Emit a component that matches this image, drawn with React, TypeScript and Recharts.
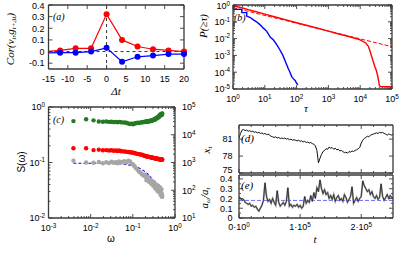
import React from 'react';
import { LineChart, Line, XAxis, YAxis, ReferenceLine } from 'recharts';

const W = 400;
const H = 280;
const FRAME = '#3a3a3a';
const SANS = '"Liberation Sans", Arial, sans-serif';
const SERIF = '"Liberation Serif", "DejaVu Serif", serif';

// (a) cross-correlation vs lag
const aLag = [-16, -12, -8, -4, 0, 4, 8, 12, 16, 20];
const aRed = [0.0, 0.01, 0.028, 0.028, 0.32, 0.1, 0.043, 0.02, 0.01, 0.0];
const aBlue = [-0.012, -0.01, -0.01, 0.0, 0.032, -0.088, -0.045, -0.035, -0.022, -0.022];
const aXTicks = [-15, -10, -5, 0, 5, 10, 15, 20];
const aYTicks = [-0.1, 0, 0.1, 0.2, 0.3, 0.4];

// (b) survival functions
const bBlueT = [1, 1.9, 1.9, 2.7, 2.7, 3.5, 4.4, 5.5, 7, 9, 11.5, 15, 18.5, 24, 30, 37, 44, 50, 55, 62, 70, 80, 90, 100, 110];
const bBlueP = [0.55, 0.55, 0.35, 0.35, 0.22, 0.18, 0.13, 0.1, 0.068, 0.042, 0.027, 0.012, 0.0085, 0.0042, 0.0021, 0.001, 4.5e-4, 2.5e-4, 1.6e-4, 1e-4, 5.5e-5, 4e-5, 3.2e-5, 2.2e-5, 1.8e-5];
const bRedT = [1, 2, 3, 5, 10, 20, 50, 100, 200, 500, 1000, 2000, 5000, 10000, 15000, 18000, 20000, 23000, 26000, 29000, 32000, 35000, 38000, 40000, 43000, 100000];
const bRedP = [0.9, 0.66, 0.53, 0.41, 0.285, 0.2, 0.125, 0.088, 0.062, 0.04, 0.028, 0.0195, 0.0125, 0.0085, 0.0055, 0.0035, 0.002, 8.3e-4, 4e-4, 2.1e-4, 1.3e-4, 6.8e-5, 3e-5, 1.7e-5, 1.4e-5, 1.35e-5];
const bFitT = [1, 100000];
const bFitP = [0.7, 0.0033];
const bXTicks = [1, 10, 100, 1000, 10000, 100000];
const bYTicks = [1e-5, 1e-4, 1e-3, 1e-2, 1e-1, 1];

// (c) spectra
const cOmega = [0.0039, 0.0078, 0.0117, 0.0156, 0.0195, 0.0234, 0.0273, 0.0313, 0.0352, 0.0391, 0.043, 0.0469, 0.0508, 0.0547, 0.0625, 0.0703, 0.0781, 0.0859, 0.0938, 0.1016, 0.1094, 0.1172, 0.1289, 0.1406, 0.1523, 0.1641, 0.1758, 0.1875, 0.2031, 0.2188, 0.2344, 0.25, 0.2656, 0.2813, 0.2969, 0.3125, 0.332, 0.3516, 0.3711, 0.3906, 0.4102, 0.4297, 0.4492, 0.4688, 0.4844, 0.5];
const cGray = [0.108, 0.1, 0.099, 0.102, 0.097, 0.101, 0.098, 0.103, 0.099, 0.101, 0.097, 0.104, 0.1, 0.102, 0.106, 0.1, 0.108, 0.104, 0.095, 0.092, 0.086, 0.08, 0.074, 0.068, 0.066, 0.061, 0.06, 0.057, 0.055, 0.051, 0.05, 0.048, 0.045, 0.044, 0.042, 0.04, 0.039, 0.036, 0.037, 0.033, 0.035, 0.03, 0.032, 0.027, 0.028, 0.025];
const cRed = [3250, 3250, 2800, 2900, 2750, 2800, 2700, 2750, 2650, 2700, 2600, 2700, 2600, 2550, 2500, 2450, 2400, 2350, 2300, 2250, 2200, 2100, 2050, 2000, 1950, 1900, 1850, 1750, 1700, 1650, 1600, 1580, 1550, 1500, 1480, 1450, 1420, 1400, 1380, 1350, 1330, 1300, 1320, 1280, 1300, 1270];
const cGreen = [31000, 36000, 33000, 30000, 29500, 30000, 29000, 29500, 28500, 29000, 28000, 29000, 28500, 28000, 27500, 27000, 25500, 24500, 25000, 24000, 25500, 26000, 27000, 26500, 28000, 27500, 29000, 28500, 30000, 29500, 30000, 30500, 31000, 32000, 33000, 34000, 35000, 37000, 39000, 41000, 43000, 46000, 50000, 54000, 51000, 57000];
// extra high-frequency points (between the ones above)
const cOmegaB = [0.1953, 0.2109, 0.2266, 0.2422, 0.2578, 0.2734, 0.2891, 0.3047, 0.3203, 0.3398, 0.3594, 0.3789, 0.3984, 0.418, 0.4375, 0.457, 0.4766, 0.4922];
const cGrayB = [0.06, 0.048, 0.055, 0.045, 0.05, 0.041, 0.046, 0.038, 0.044, 0.034, 0.04, 0.031, 0.038, 0.029, 0.036, 0.026, 0.033, 0.024];
const cRedB = [1720, 1680, 1620, 1600, 1560, 1530, 1490, 1470, 1440, 1410, 1390, 1370, 1340, 1310, 1310, 1290, 1300, 1260];
const cGreenB = [29000, 30000, 30500, 31500, 32000, 32500, 33500, 34500, 36000, 38000, 40000, 42000, 44000, 48000, 52000, 55000, 53000, 58000];
const cFitW = [0.0039, 0.0078, 0.0156, 0.0313, 0.0469, 0.0625, 0.0781, 0.0938, 0.1172, 0.1406, 0.1641, 0.1875, 0.2188, 0.25, 0.2813, 0.3125, 0.3516, 0.3906, 0.4297, 0.4688, 0.5];
const cFitS = [0.097, 0.097, 0.097, 0.096, 0.0947, 0.093, 0.0908, 0.0884, 0.0842, 0.0795, 0.0747, 0.0698, 0.0633, 0.0573, 0.0516, 0.0465, 0.0409, 0.036, 0.0318, 0.0282, 0.0257];
const cXTicks = [0.001, 0.01, 0.1, 1];
const cYTicks = [0.01, 0.1, 1];
const cRTicks = [10, 100, 1000, 10000, 100000];

// (d), (e) time series
const dTime = [0, 2500, 5000, 7500, 10000, 12500, 15000, 17500, 20000, 22500, 25000, 27500, 30000, 32500, 35000, 37500, 40000, 42500, 45000, 47500, 50000, 52500, 55000, 57500, 60000, 62500, 65000, 67500, 70000, 72500, 75000, 77500, 80000, 82500, 85000, 87500, 90000, 92500, 95000, 97500, 100000, 102500, 105000, 107500, 110000, 112500, 115000, 117500, 120000, 122500, 125000, 127500, 130000, 132500, 135000, 137500, 140000, 142500, 145000, 147500, 150000, 152500, 155000, 157500, 160000, 162500, 165000, 167500, 170000, 172500, 175000, 177500, 180000, 182500, 185000, 187500, 190000, 192500, 195000, 197500, 200000, 202500, 205000, 207500, 210000, 212500, 215000, 217500, 220000, 222500, 225000, 227500, 230000, 232500, 235000, 237500, 240000, 242500, 245000, 247500, 250000, 252500];
const dX = [81.2, 82.0, 82.6, 82.7, 82.5, 82.6, 82.4, 82.5, 82.3, 82.4, 82.2, 82.3, 82.1, 82.2, 82.0, 82.1, 81.9, 82.0, 81.8, 81.9, 81.7, 81.5, 81.4, 81.3, 81.4, 81.2, 81.3, 81.1, 81.2, 81.1, 81.2, 81.0, 81.1, 80.9, 81.0, 80.8, 80.9, 80.8, 80.7, 80.8, 80.6, 80.7, 80.5, 80.6, 80.4, 80.5, 80.3, 80.4, 80.2, 80.1, 79.8, 79.0, 76.8, 77.6, 78.3, 78.8, 79.0, 79.3, 79.2, 79.6, 79.4, 79.5, 79.2, 79.4, 79.1, 79.2, 78.9, 79.0, 78.8, 78.6, 78.7, 78.5, 78.8, 78.7, 78.9, 78.8, 79.0, 79.1, 79.3, 79.5, 80.3, 80.8, 81.1, 81.3, 81.5, 81.4, 81.7, 81.8, 81.9, 82.0, 82.1, 82.0, 82.2, 82.1, 82.2, 82.0, 81.9, 81.7, 81.9, 81.8, 81.7, 81.9];
const eRatio = [0.22, 0.2, 0.18, 0.19, 0.16, 0.15, 0.14, 0.15, 0.12, 0.13, 0.11, 0.12, 0.09, 0.07, 0.1, 0.13, 0.18, 0.36, 0.22, 0.17, 0.19, 0.15, 0.2, 0.16, 0.13, 0.28, 0.16, 0.12, 0.14, 0.16, 0.13, 0.17, 0.31, 0.12, 0.14, 0.11, 0.13, 0.12, 0.14, 0.11, 0.13, 0.1, 0.12, 0.22, 0.15, 0.18, 0.16, 0.23, 0.17, 0.26, 0.2, 0.31, 0.27, 0.39, 0.3, 0.25, 0.29, 0.24, 0.26, 0.2, 0.23, 0.19, 0.24, 0.17, 0.21, 0.23, 0.18, 0.2, 0.17, 0.24, 0.21, 0.16, 0.19, 0.22, 0.32, 0.15, 0.18, 0.21, 0.17, 0.2, 0.22, 0.38, 0.33, 0.3, 0.27, 0.29, 0.24, 0.27, 0.22, 0.2, 0.23, 0.19, 0.21, 0.35, 0.22, 0.18, 0.21, 0.24, 0.2, 0.23, 0.21, 0.2];
const eMean = 0.18;
const tTicks = [0, 100000, 200000];
const tLabels = ['0', '1', '2'];
const tExp = ['0', '5', '5'];
const dYTicks = [75, 78, 81];
const eYTicks = [0, 0.1, 0.2, 0.3, 0.4];

const pts = (xs: number[], ys: number[]) => xs.map((x, i) => ({ x, y: ys[i] }));

const logTicks = (lo: number, hi: number) => {
  const out: number[] = [];
  for (let e = lo; e < hi; e++) for (let k = 1; k < 10; k++) out.push(k * Math.pow(10, e));
  out.push(Math.pow(10, hi));
  return out;
};
const linTicks = (lo: number, hi: number, step: number) => {
  const out: number[] = [];
  for (let v = lo; v <= hi + 1e-9; v += step) out.push(Math.round(v * 1e6) / 1e6);
  return out;
};

type Fmt = (v: number) => React.ReactNode;
type Side = 'bottom' | 'top' | 'left' | 'right';

const isMajor = (v: number, majors: number[]) =>
  majors.some((m) => Math.abs(m - v) <= 1e-6 * Math.max(Math.abs(m), 1e-9));

const pow10: Fmt = (v) => {
  const e = Math.round(Math.log10(v));
  return [
    <tspan key="b">10</tspan>,
    <tspan key="e" dy={-3.5} fontSize={6.3}>{e}</tspan>,
  ];
};
const plain: Fmt = (v) => String(Math.round(v * 100) / 100);
// the lowest label of (d) sits a little higher so it clears the 0.4 of (e)
const dFmt: Fmt = (v) => (v === 75 ? <tspan dy={-3}>75</tspan> : String(v));
const tFmt: Fmt = (v) => {
  const i = tTicks.indexOf(v);
  return [
    <tspan key="m">{tLabels[i]}·10</tspan>,
    <tspan key="e" dy={-3.5} fontSize={6.3}>{tExp[i]}</tspan>,
  ];
};

const mkTick = (side: Side, majors: number[], fmt?: Fmt, off = 0) => (p: any) => {
  const { x, y, payload } = p;
  const v = payload.value;
  const major = isMajor(v, majors);
  const len = major ? 4 : 2;
  let c: number[];
  if (side === 'bottom') c = [x, y, x, y - len];
  else if (side === 'top') c = [x, y, x, y + len];
  else if (side === 'left') c = [x, y, x + len, y];
  else c = [x, y, x - len, y];
  let label = null;
  if (major && fmt) {
    const tp = { fontFamily: SANS, fontSize: 9, fill: '#000' };
    if (side === 'bottom')
      label = <text x={x} y={y + off} textAnchor="middle" {...tp}>{fmt(v)}</text>;
    else if (side === 'left')
      label = <text x={x - off} y={Math.max(y + 3.3, 9)} textAnchor="end" {...tp}>{fmt(v)}</text>;
    else if (side === 'right')
      label = <text x={x + off} y={Math.max(y + 3.3, 9)} textAnchor="start" {...tp}>{fmt(v)}</text>;
  }
  return (
    <g>
      <line x1={c[0]} y1={c[1]} x2={c[2]} y2={c[3]} stroke={FRAME} strokeWidth={0.9} />
      {label}
    </g>
  );
};

interface AxOpts {
  xd: [number, number];
  yd: [number, number];
  xlog?: boolean;
  ylog?: boolean;
  xt: number[];
  yt: number[];
  xm: number[];
  ym: number[];
  xf?: Fmt;
  yf?: Fmt;
  xo?: number;
  yo?: number;
  rd?: [number, number];
  rt?: number[];
  rm?: number[];
  rf?: Fmt;
  ro?: number;
}

// axes are 1px thick so that recharts renders them; Panel margins are reduced by 1
const frame = (o: AxOpts) => {
  const common = {
    type: 'number' as const,
    allowDataOverflow: true,
    interval: 0 as const,
    tickSize: 0,
    tickMargin: 0,
    tickLine: false,
    axisLine: { stroke: FRAME, strokeWidth: 1.3 },
  };
  const xs = o.xlog ? 'log' : 'linear';
  const ys = o.ylog ? 'log' : 'linear';
  return [
    <XAxis key="xb" dataKey="x" {...common} scale={xs} domain={o.xd} ticks={o.xt} height={1} tick={mkTick('bottom', o.xm, o.xf, o.xo)} />,
    <XAxis key="xt" xAxisId="top" orientation="top" dataKey="x" {...common} scale={xs} domain={o.xd} ticks={o.xt} height={1} tick={mkTick('top', o.xm)} />,
    <YAxis key="yl" {...common} scale={ys} domain={o.yd} ticks={o.yt} width={1} tick={mkTick('left', o.ym, o.yf, o.yo)} />,
    <YAxis key="yr" yAxisId="right" orientation="right" {...common} scale={ys} domain={o.rd ?? o.yd} ticks={o.rt ?? o.yt} width={1} tick={mkTick('right', o.rm ?? o.ym, o.rf, o.ro)} />,
  ];
};

const Panel = ({ box, children }: { box: [number, number, number, number]; children: React.ReactNode }) => {
  // box = [left, top, right, bottom] of the plot frame in page pixels
  const [l, t, r, b] = box;
  return (
    <div style={{ position: 'absolute', left: 0, top: 0 }}>
      <LineChart width={W} height={H} margin={{ left: l - 1, top: t - 1, right: W - r - 1, bottom: H - b - 1 }}>
        {children}
      </LineChart>
    </div>
  );
};

const dotOnly = (fill: string, r: number) => ({ r, fill, stroke: fill, strokeWidth: 0, clipDot: false });

export default function App() {
  const aR = pts(aLag, aRed);
  const aB = pts(aLag, aBlue);
  const lab = { fontFamily: SERIF, fontStyle: 'italic' as const, fill: '#000' };
  return (
    <div style={{ position: 'absolute', left: 0, top: 0, width: W, height: H, background: '#fff', overflow: 'hidden' }}>
      {/* (a) */}
      <Panel box={[48.5, 5, 184, 69]}>
        {frame({ xd: [-15, 20], yd: [-0.15, 0.4], xt: aXTicks, yt: aYTicks, xm: aXTicks, ym: aYTicks, xf: plain, yf: plain, xo: 13, yo: 4 })}
        <ReferenceLine y={0} stroke="#000" strokeWidth={0.8} strokeDasharray="3 3" />
        <ReferenceLine x={0} stroke="#000" strokeWidth={0.8} strokeDasharray="3 3" />
        <Line data={aR} dataKey="y" stroke="#f00" strokeWidth={1.2} dot={false} isAnimationActive={false} />
        <Line data={aB} dataKey="y" stroke="#00f" strokeWidth={1.2} dot={false} isAnimationActive={false} />
        <Line data={aR.filter((p) => p.x >= -15)} dataKey="y" stroke="none" dot={dotOnly('#f00', 3)} isAnimationActive={false} />
        <Line data={aB.filter((p) => p.x >= -15)} dataKey="y" stroke="none" dot={dotOnly('#00f', 3)} isAnimationActive={false} />
      </Panel>

      {/* (b) */}
      <Panel box={[233, 5, 392, 89]}>
        {frame({ xd: [1, 1e5], yd: [1e-5, 1], xlog: true, ylog: true, xt: logTicks(0, 5), yt: logTicks(-5, 0), xm: bXTicks, ym: bYTicks, xf: pow10, yf: pow10, xo: 13, yo: 3 })}
        <Line data={pts(bFitT, bFitP)} dataKey="y" stroke="#f00" strokeWidth={1} strokeDasharray="4 2" dot={false} isAnimationActive={false} />
        <Line data={pts(bRedT, bRedP)} dataKey="y" stroke="#f00" strokeWidth={1.4} dot={false} isAnimationActive={false} />
        <Line data={pts(bBlueT, bBlueP)} dataKey="y" stroke="#00f" strokeWidth={1.4} dot={false} isAnimationActive={false} />
      </Panel>

      {/* (c) */}
      <Panel box={[48.5, 107, 175, 218]}>
        {frame({ xd: [1e-3, 1], yd: [1e-2, 1], xlog: true, ylog: true, xt: logTicks(-3, 0), yt: logTicks(-2, 0), xm: cXTicks, ym: cYTicks, xf: pow10, yf: pow10, xo: 13, yo: 3.5, rd: [10, 1e5], rt: logTicks(1, 5), rm: cRTicks, rf: pow10, ro: 7 })}
        <Line data={pts(cOmega, cGreen)} yAxisId="right" dataKey="y" stroke="none" dot={dotOnly('#237a23', 2.2)} isAnimationActive={false} />
        <Line data={pts(cOmegaB, cGreenB)} yAxisId="right" dataKey="y" stroke="none" dot={dotOnly('#237a23', 2.2)} isAnimationActive={false} />
        <Line data={pts(cOmega, cRed)} yAxisId="right" dataKey="y" stroke="none" dot={dotOnly('#f00', 2.2)} isAnimationActive={false} />
        <Line data={pts(cOmegaB, cRedB)} yAxisId="right" dataKey="y" stroke="none" dot={dotOnly('#f00', 2.2)} isAnimationActive={false} />
        <Line data={pts(cOmega, cGray)} dataKey="y" stroke="none" dot={dotOnly('#a6a6a6', 2.2)} isAnimationActive={false} />
        <Line data={pts(cOmegaB, cGrayB)} dataKey="y" stroke="none" dot={dotOnly('#a6a6a6', 2.2)} isAnimationActive={false} />
        <Line data={pts(cFitW, cFitS)} dataKey="y" stroke="#00f" strokeWidth={1.1} strokeDasharray="3 2" dot={false} isAnimationActive={false} />
      </Panel>

      {/* (d) */}
      <Panel box={[239, 125, 393, 173]}>
        {frame({ xd: [0, 252000], yd: [75, 83.5], xt: linTicks(0, 240000, 20000), yt: dYTicks, xm: tTicks, ym: dYTicks, yf: dFmt, yo: 6.5 })}
        <Line data={pts(dTime, dX)} dataKey="y" stroke="#111" strokeWidth={1} dot={false} isAnimationActive={false} />
      </Panel>

      {/* (e) */}
      <Panel box={[239, 175, 393, 218]}>
        {frame({ xd: [0, 252000], yd: [0, 0.44], xt: linTicks(0, 240000, 20000), yt: linTicks(0, 0.4, 0.05), xm: tTicks, ym: eYTicks, xf: tFmt, yf: plain, xo: 12, yo: 6.5 })}
        <ReferenceLine y={eMean} stroke="#6a6aff" strokeWidth={1} strokeDasharray="4 2" />
        <Line data={pts(dTime, eRatio)} dataKey="y" stroke="#999" strokeWidth={1.8} dot={false} isAnimationActive={false} />
        <Line data={pts(dTime, eRatio)} dataKey="y" stroke="#111" strokeWidth={0.7} dot={false} isAnimationActive={false} />
      </Panel>

      {/* labels */}
      <svg width={W} height={H} style={{ position: 'absolute', left: 0, top: 0 }}>
        <text transform="translate(14,39) rotate(-90)" textAnchor="middle" fontSize={11} {...lab}>
          Cor(v<tspan dy={2} fontSize={7}>t</tspan>
          <tspan dy={-2}>,g</tspan>
          <tspan dy={2} fontSize={7}>t+Δt</tspan>
          <tspan dy={-2}>)</tspan>
        </text>
        <text x={116} y={95} textAnchor="middle" fontSize={11} {...lab}>Δt</text>
        <text x={53} y={20} fontSize={10} {...lab}>(a)</text>

        <text transform="translate(207,26) rotate(-90)" textAnchor="middle" fontSize={11} {...lab}>P(≥τ)</text>
        <text x={306} y={112} textAnchor="middle" fontSize={11} {...lab}>τ</text>
        <text x={234} y={21} fontSize={10} {...lab}>(b)</text>

        <text transform="translate(25,162) rotate(-90)" textAnchor="middle" fontSize={10} fontFamily={SANS}>S(ω)</text>
        <text x={111} y={242} textAnchor="middle" fontSize={10} fontFamily={SANS}>ω</text>
        <text x={53} y={123} fontSize={10} {...lab}>(c)</text>

        <text transform="translate(210,150) rotate(-90)" textAnchor="middle" fontSize={11} {...lab}>
          x<tspan dy={2} fontSize={7}>t</tspan>
        </text>
        <text x={241} y={142} fontSize={11} {...lab}>(d)</text>

        <text transform="translate(208,198) rotate(-90)" textAnchor="middle" fontSize={11} {...lab}>
          a<tspan dy={2} fontSize={7}>ω</tspan>
          <tspan dy={-2}>/a</tspan>
          <tspan dy={2} fontSize={7}>t</tspan>
        </text>
        <text x={241} y={189} fontSize={11} {...lab}>(e)</text>
        <text x={315} y={243} textAnchor="middle" fontSize={11} {...lab}>t</text>
      </svg>
    </div>
  );
}
